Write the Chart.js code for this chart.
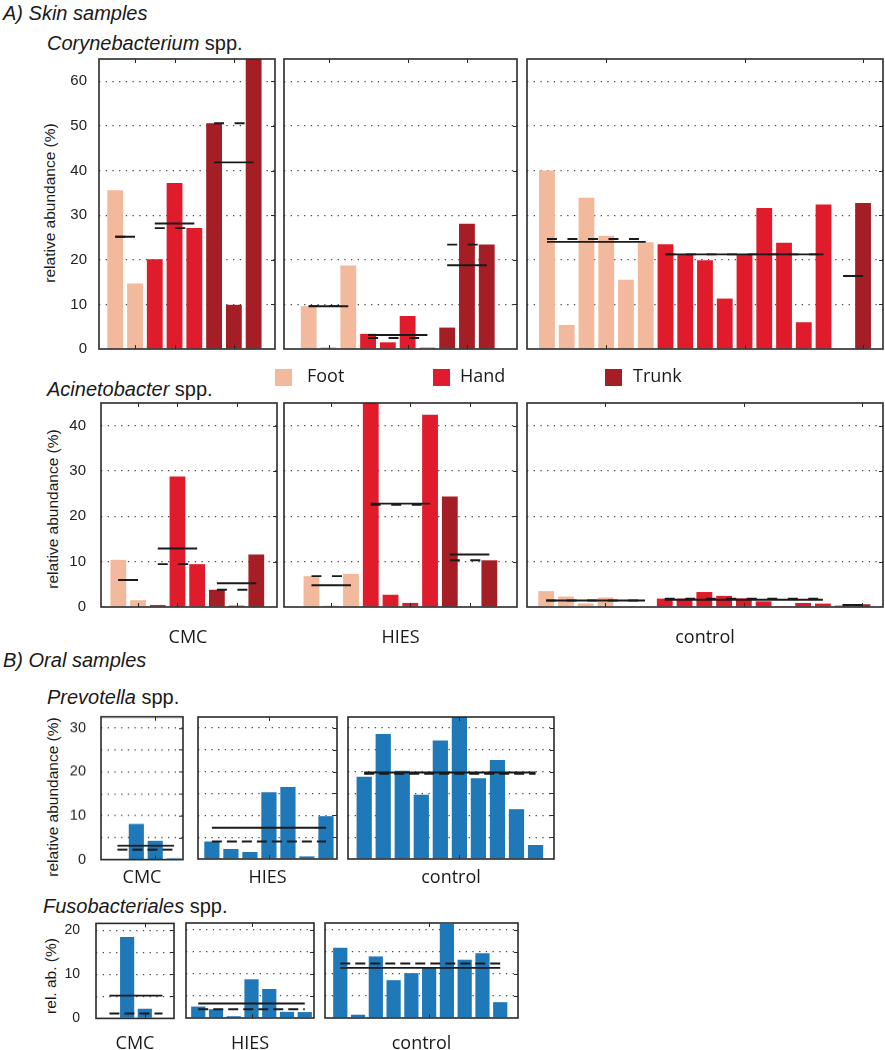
<!DOCTYPE html>
<html>
<head>
<meta charset="utf-8">
<script src="https://cdn.jsdelivr.net/npm/chart.js@4.4.1/dist/chart.umd.min.js"></script>
<style>
  body { margin: 0; background: #fff; width: 885px; height: 1050px; position: relative; overflow: hidden;
         font-family: "Liberation Sans", Arial, sans-serif; color: #1a1a1a; }
  .t { position: absolute; white-space: nowrap; line-height: 1; }
  .h { font-size: 20px; font-style: italic; }
  .sp { font-size: 20px; }
  .g { font-family: "Open Sans", sans-serif; font-size: 18px; transform: translateX(-50%); }
  .lg { font-family: "Open Sans", sans-serif; font-size: 18px; }
  .yl { font-size: 15.5px; transform: translate(-50%, -50%) rotate(-90deg); }
  .sw { position: absolute; width: 17px; height: 17px; }
  canvas { position: absolute; }
</style>
</head>
<body>

<div class="t h" style="left:3px; top:3px">A) Skin samples</div>
<div class="t sp" style="left:47px; top:33px"><i>Corynebacterium</i> spp.</div>
<div class="t sp" style="left:47px; top:379px"><i>Acinetobacter</i> spp.</div>
<div class="t h" style="left:3px; top:650px">B) Oral samples</div>
<div class="t sp" style="left:47px; top:687px"><i>Prevotella</i> spp.</div>
<div class="t sp" style="left:43px; top:896px"><i>Fusobacteriales</i> spp.</div>

<div class="t yl" style="left:50px; top:203px">relative abundance (%)</div>
<div class="t yl" style="left:53px; top:509px">relative abundance (%)</div>
<div class="t yl" style="left:53px; top:797px">relative abundance (%)</div>
<div class="t yl" style="left:51px; top:976px">rel. ab. (%)</div>

<script>
const cohorts = ['CMC', 'HIES', 'control'];
const sites = ['Foot', 'Hand', 'Trunk'];

// skin, relative abundance (%) per sample, grouped [Foot], [Hand], [Trunk]
const coryneCMC = [[35.6, 14.7], [20.1, 37.2, 27.1], [50.6, 9.9, 65.0]];
const coryneHIES = [[9.6, 0.4, 18.7], [3.4, 1.5, 7.4, 0.3], [4.8, 28.1, 23.4]];
const coryneControl = [[40.0, 5.4, 33.9, 25.4, 15.5, 23.9],
                       [23.5, 21.2, 19.9, 11.3, 21.2, 31.6, 23.8, 6.0, 32.4], [0, 32.7]];
const acinetoCMC = [[10.4, 1.5], [0.45, 28.8, 9.45], [3.8, 0.3, 11.6]];
const acinetoHIES = [[6.8, 0.3, 7.3], [45.2, 2.7, 0.9, 42.4], [24.4, 0, 10.3]];
const acinetoControl = [[3.5, 2.3, 0.8, 2.1, 0, 0],
                        [1.85, 1.85, 3.3, 2.45, 1.9, 1.25, 0.05, 0.9, 0.75], [0.3, 0.6]];

// oral, relative abundance (%) per sample
const prevotellaCMC = [0, 8.1, 4.3, 0.25];
const prevotellaHIES = [4.0, 2.3, 1.6, 15.3, 16.5, 0.6, 9.8];
const prevotellaControl = [18.8, 28.6, 20.2, 14.7, 27.1, 32.9, 18.5, 22.65, 11.4, 3.2];
const fusoCMC = [0, 18.5, 2.2, 0];
const fusoHIES = [2.6, 2.0, 0.4, 8.8, 6.6, 1.4, 1.35];
const fusoControl = [16.0, 0.75, 14.0, 8.6, 10.2, 11.5, 21.4, 13.25, 14.7, 3.6];

// y ticks (grid) and the ones that get a label
const coryneTicks = [0, 10, 20, 30, 40, 50, 60];
const acinetoTicks = [0, 10, 20, 30, 40];
const prevotellaTicks = [0, 5, 10, 15, 20, 25, 30];
const prevotellaLabels = [0, 10, 20, 30];
const fusoTicks = [0, 5, 10, 15, 20];
const fusoLabels = [0, 10, 20];

const siteColors = ['#f2b99c', '#e01b2b', '#a51d25'];
const oralColor = '#1f78b7';

const mean = a => a.reduce((s, v) => s + v, 0) / a.length;
const median = a => {
  const s = [...a].sort((p, q) => p - q), m = Math.floor(s.length / 2);
  return s.length % 2 ? s[m] : (s[m - 1] + s[m]) / 2;
};

// box around the plot area, inward ticks at group middles and on the right edge
const frame = {
  id: 'frame',
  afterDraw(chart, args, opts) {
    const { ctx, chartArea: a, scales } = chart;
    ctx.save();
    ctx.strokeStyle = '#2a2a2a';
    ctx.lineWidth = 1;
    ctx.beginPath();
    opts.mids.forEach(v => {
      const x = Math.round(scales.x.getPixelForValue(v)) + 0.5;
      ctx.moveTo(x, a.top); ctx.lineTo(x, a.top + 4);
      ctx.moveTo(x, a.bottom); ctx.lineTo(x, a.bottom - 4);
    });
    scales.y.ticks.forEach(t => {
      if (t.value <= 0) return;
      const y = Math.round(scales.y.getPixelForValue(t.value)) + 0.5;
      ctx.moveTo(a.right, y); ctx.lineTo(a.right - 4, y);
    });
    ctx.stroke();
    ctx.lineWidth = 1.6;
    ctx.strokeRect(a.left, a.top, a.width, a.height);
    ctx.restore();
  }
};

const PAD = 12;

function panel(groups, colors, box, xr, yMax, gridVals, labelVals, o) {
  const [L, T, R, B] = box;
  const aw = o.axisW || 0;
  const w = R - L + aw + 2 * PAD, h = B - T + 2 * PAD;
  const c = document.createElement('canvas');
  c.width = w; c.height = h;
  c.style.width = w + 'px';
  c.style.height = h + 'px';
  document.body.appendChild(c);

  const bars = [], barColors = [], means = [], medians = [], mids = [];
  let i = 0;
  groups.forEach((g, gi) => {
    g.forEach((v, k) => { bars.push({ x: i + k, y: v }); barColors.push(colors[gi]); });
    const a = i, b = i + g.length - 1, m = mean(g), md = median(g);
    means.push({ x: a, y: m }, { x: b, y: m }, { x: b + 0.5, y: null });
    medians.push({ x: a, y: md }, { x: b, y: md }, { x: b + 0.5, y: null });
    mids.push(i + Math.floor(g.length / 2));
    i += g.length;
  });

  const chart = new Chart(c, {
    type: 'bar',
    data: {
      datasets: [
        { type: 'line', data: means, borderColor: '#1a1a1a', borderWidth: 1.9,
          pointRadius: 0, spanGaps: false, order: 0 },
        { type: 'line', data: medians, borderColor: '#1a1a1a', borderWidth: 1.9,
          borderDash: o.dash, pointRadius: 0, spanGaps: false, order: 0 },
        { data: bars, backgroundColor: barColors, barPercentage: 0.8,
          categoryPercentage: 1, order: 1 }
      ]
    },
    options: {
      responsive: false,
      maintainAspectRatio: false,
      animation: false,
      layout: { padding: PAD },
      plugins: { legend: { display: false }, tooltip: { enabled: false }, frame: { mids } },
      scales: {
        x: {
          type: 'linear', min: xr[0], max: xr[1], offset: false, display: false,
          afterBuildTicks: s => { s.ticks = bars.map(p => ({ value: p.x })); }
        },
        y: {
          min: 0, max: yMax,
          afterBuildTicks: s => { s.ticks = gridVals.map(v => ({ value: v })); },
          afterFit: s => { s.width = aw; },
          grid: {
            drawTicks: false, lineWidth: 1.2,
            color: ctx => ctx.tick && ctx.tick.value > 0 ? '#4a4a4a' : 'rgba(0,0,0,0)'
          },
          border: { display: false, dash: [1.3, 5.4] },
          ticks: {
            display: aw > 0, padding: o.tickPad || 12, color: '#222',
            font: { family: 'Liberation Sans', size: o.tickSize || 15 },
            callback: v => labelVals.includes(v) ? v : ''
          }
        }
      }
    },
    plugins: [frame]
  });

  // grow the canvas so the plot area gets the wanted size, then place it on the box
  let ca = chart.chartArea;
  const dw = (R - L) - (ca.right - ca.left), dh = (B - T) - (ca.bottom - ca.top);
  if (Math.abs(dw) > 0.1 || Math.abs(dh) > 0.1) chart.resize(w + dw, h + dh);
  ca = chart.chartArea;
  c.style.left = (L - ca.left) + 'px';
  c.style.top = (T - ca.top) + 'px';
}

const skinDash = [10, 10.5];
const oralDash = [10, 5];

// Corynebacterium
panel(coryneCMC, siteColors, [99, 59, 275, 349], [-0.82, 8.08], 65, coryneTicks, coryneTicks,
      { axisW: 40, tickPad: 12, tickSize: 15, dash: skinDash });
panel(coryneHIES, siteColors, [284, 59, 517, 349], [-1.25, 10.53], 65, coryneTicks, coryneTicks,
      { dash: skinDash });
panel(coryneControl, siteColors, [527, 59, 883, 349], [-1.01, 17.01], 65, coryneTicks, coryneTicks,
      { dash: skinDash });

// Acinetobacter
panel(acinetoCMC, siteColors, [101, 403, 277, 607], [-0.88, 8.05], 45, acinetoTicks, acinetoTicks,
      { axisW: 40, tickPad: 15, tickSize: 15, dash: skinDash });
panel(acinetoHIES, siteColors, [284, 403, 517, 607], [-1.39, 10.4], 45, acinetoTicks, acinetoTicks,
      { dash: skinDash });
panel(acinetoControl, siteColors, [527, 403, 883, 607], [-0.97, 17.04], 45, acinetoTicks, acinetoTicks,
      { dash: skinDash });

// Prevotella
panel([prevotellaCMC], [oralColor], [101, 717, 183, 859], [-0.87, 3.47], 32.5, prevotellaTicks, prevotellaLabels,
      { axisW: 40, tickPad: 15, tickSize: 14.5, dash: oralDash });
panel([prevotellaHIES], [oralColor], [198, 717, 337, 859], [-0.73, 6.58], 32.5, prevotellaTicks, prevotellaLabels,
      { dash: oralDash });
panel([prevotellaControl], [oralColor], [348, 717, 554, 859], [-0.85, 9.97], 32.5, prevotellaTicks, prevotellaLabels,
      { dash: oralDash });

// Fusobacteriales
panel([fusoCMC], [oralColor], [96, 923, 174, 1018], [-0.76, 3.65], 21.6, fusoTicks, fusoLabels,
      { axisW: 40, tickPad: 16, tickSize: 14, dash: oralDash });
panel([fusoHIES], [oralColor], [186, 923, 314, 1018], [-0.69, 6.52], 21.6, fusoTicks, fusoLabels,
      { dash: oralDash });
panel([fusoControl], [oralColor], [325, 923, 518, 1018], [-0.86, 10.0], 21.6, fusoTicks, fusoLabels,
      { dash: oralDash });

// legend
const legendX = [[275, 307], [433, 460], [605, 633]];
sites.forEach((s, k) => {
  const sw = document.createElement('div');
  sw.className = 'sw';
  sw.style.cssText = `left:${legendX[k][0]}px; top:369px; background:${siteColors[k]}`;
  document.body.appendChild(sw);
  const t = document.createElement('div');
  t.className = 't lg';
  t.style.cssText = `left:${legendX[k][1]}px; top:366px`;
  t.textContent = s;
  document.body.appendChild(t);
});

// cohort labels under each row of panels
const labelRows = [
  { top: 627, x: [188, 400.5, 705] },
  { top: 867, x: [142, 267.5, 451] },
  { top: 1033, x: [135, 250, 421.5] }
];
labelRows.forEach(r => cohorts.forEach((name, k) => {
  const t = document.createElement('div');
  t.className = 't g';
  t.style.cssText = `left:${r.x[k]}px; top:${r.top}px`;
  t.textContent = name;
  document.body.appendChild(t);
}));
</script>
</body>
</html>
